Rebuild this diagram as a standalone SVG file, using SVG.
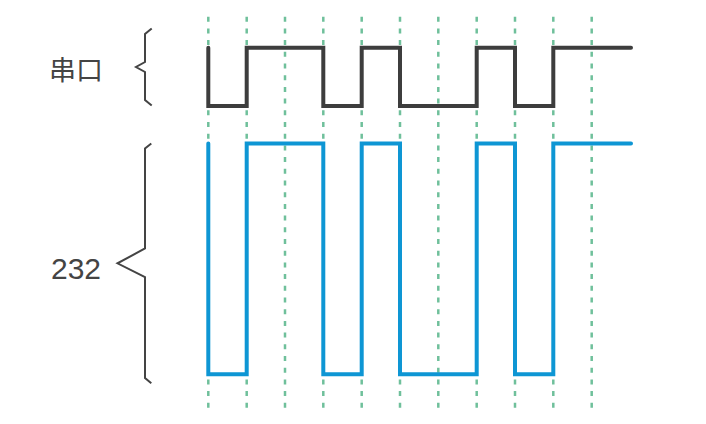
<svg xmlns="http://www.w3.org/2000/svg" width="706" height="424" viewBox="0 0 706 424">
<style>
.grid{stroke:#6fc09b;stroke-width:2.5;stroke-dasharray:5 6.7;fill:none}
.brace{stroke:#444;stroke-width:2;fill:none;stroke-linejoin:miter}
.lbl{fill:#444;font-family:"Liberation Sans","Noto Sans CJK SC",sans-serif}
.sig1{stroke:#3d3d3d;stroke-width:4;fill:none;stroke-linejoin:miter;stroke-linecap:round}
.sig2{stroke:#0e96d4;stroke-width:4;fill:none;stroke-linejoin:miter;stroke-linecap:round}
</style>
<rect width="706" height="424" fill="#fff"/>
<g id="grid">
<line class="grid" x1="208.3" y1="16.7" x2="208.3" y2="412"/>
<line class="grid" x1="246.7" y1="16.7" x2="246.7" y2="412"/>
<line class="grid" x1="285" y1="16.7" x2="285" y2="412"/>
<line class="grid" x1="323.3" y1="16.7" x2="323.3" y2="412"/>
<line class="grid" x1="361.7" y1="16.7" x2="361.7" y2="412"/>
<line class="grid" x1="400" y1="16.7" x2="400" y2="412"/>
<line class="grid" x1="438.3" y1="16.7" x2="438.3" y2="412"/>
<line class="grid" x1="476.7" y1="16.7" x2="476.7" y2="412"/>
<line class="grid" x1="515" y1="16.7" x2="515" y2="412"/>
<line class="grid" x1="553.3" y1="16.7" x2="553.3" y2="412"/>
<line class="grid" x1="591.7" y1="16.7" x2="591.7" y2="412"/>
</g>
<g id="serial">
<text class="lbl" x="49" y="80" font-size="27">串口</text>
<path class="brace" d="M151.7,28.5 L145,34 L145,62 L136,67 L145,72 L145,100 L151.7,105.5"/>
<path class="sig1" d="M208.3,47.7 V106 H246.7 V47.7 H323.3 V106 H361.7 V47.7 H400 V106 H476.7 V47.7 H515 V106 H553.3 V47.7 H631"/>
</g>
<g id="rs232">
<text class="lbl" x="51" y="278.5" font-size="30">232</text>
<path class="brace" d="M151.3,143.5 L145,148.5 L145,248.5 L117.5,263.3 L145,277 L145,378 L151.3,383.3"/>
<path class="sig2" d="M208.3,143.5 V374.3 H246.7 V143.5 H323.3 V374.3 H361.7 V143.5 H400 V374.3 H476.7 V143.5 H515 V374.3 H553.3 V143.5 H631"/>
</g>
</svg>
